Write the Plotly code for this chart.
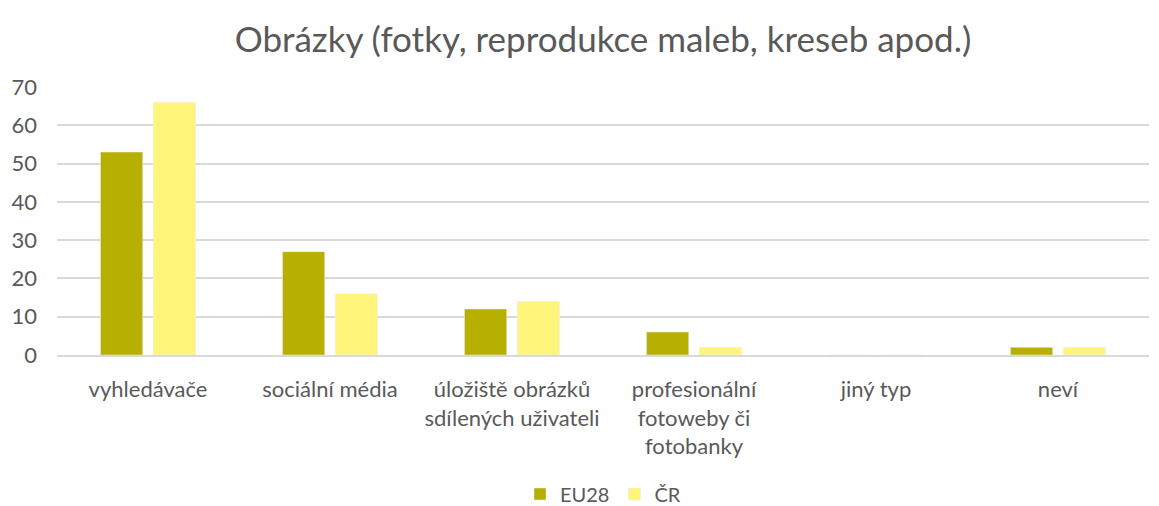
import plotly.graph_objects as go

categories = ["vyhledávače", "sociální média", "úložiště obrázků<br>sdílených uživateli",
              "profesionální<br>fotoweby či<br>fotobanky", "jiný typ", "neví"]
eu28 = [53, 27, 12, 6, 0, 2]
cr = [66, 16, 14, 2, 0, 2]
tick_vals = [0, 10, 20, 30, 40, 50, 60, 70]

W, H = 1151, 498  # page body adds an 8px margin

fig = go.Figure()
fig.add_trace(go.Bar(name="EU28", x=categories, y=eu28, marker_color="#B8B000"))
fig.add_trace(go.Bar(name="ČR", x=categories, y=cr, marker_color="#FFF57A"))

fig.update_layout(
    width=W, height=H,
    paper_bgcolor="white", plot_bgcolor="white",
    font=dict(family="Lato, Open Sans, sans-serif", color="#595959", size=22),
    title=dict(text="Obrázky (fotky, reprodukce maleb, kreseb apod.)", x=0.5, xanchor="center", xref="paper",
               y=1 - 32 / H, yanchor="middle", yref="container", font=dict(size=35, color="#595959")),
    barmode="group", bargap=0.42, bargroupgap=0.2,
    margin=dict(l=49, r=10, t=79, b=151, autoexpand=False),
    legend=dict(orientation="h", x=0.5, xanchor="center", y=1 - 486 / H, yanchor="middle",
                yref="container", font=dict(size=20)),
    showlegend=True,
)
fig.update_yaxes(range=[0, 70], tickvals=tick_vals, showgrid=True, gridcolor="#D9D9D9", gridwidth=1.5,
                 zeroline=False, showline=False, ticks="", ticklabelstandoff=19)
fig.update_xaxes(showline=True, linecolor="#D9D9D9", linewidth=1.5, ticks="", tickangle=0,
                 ticklabelstandoff=14)

fig.write_html("out.html")
